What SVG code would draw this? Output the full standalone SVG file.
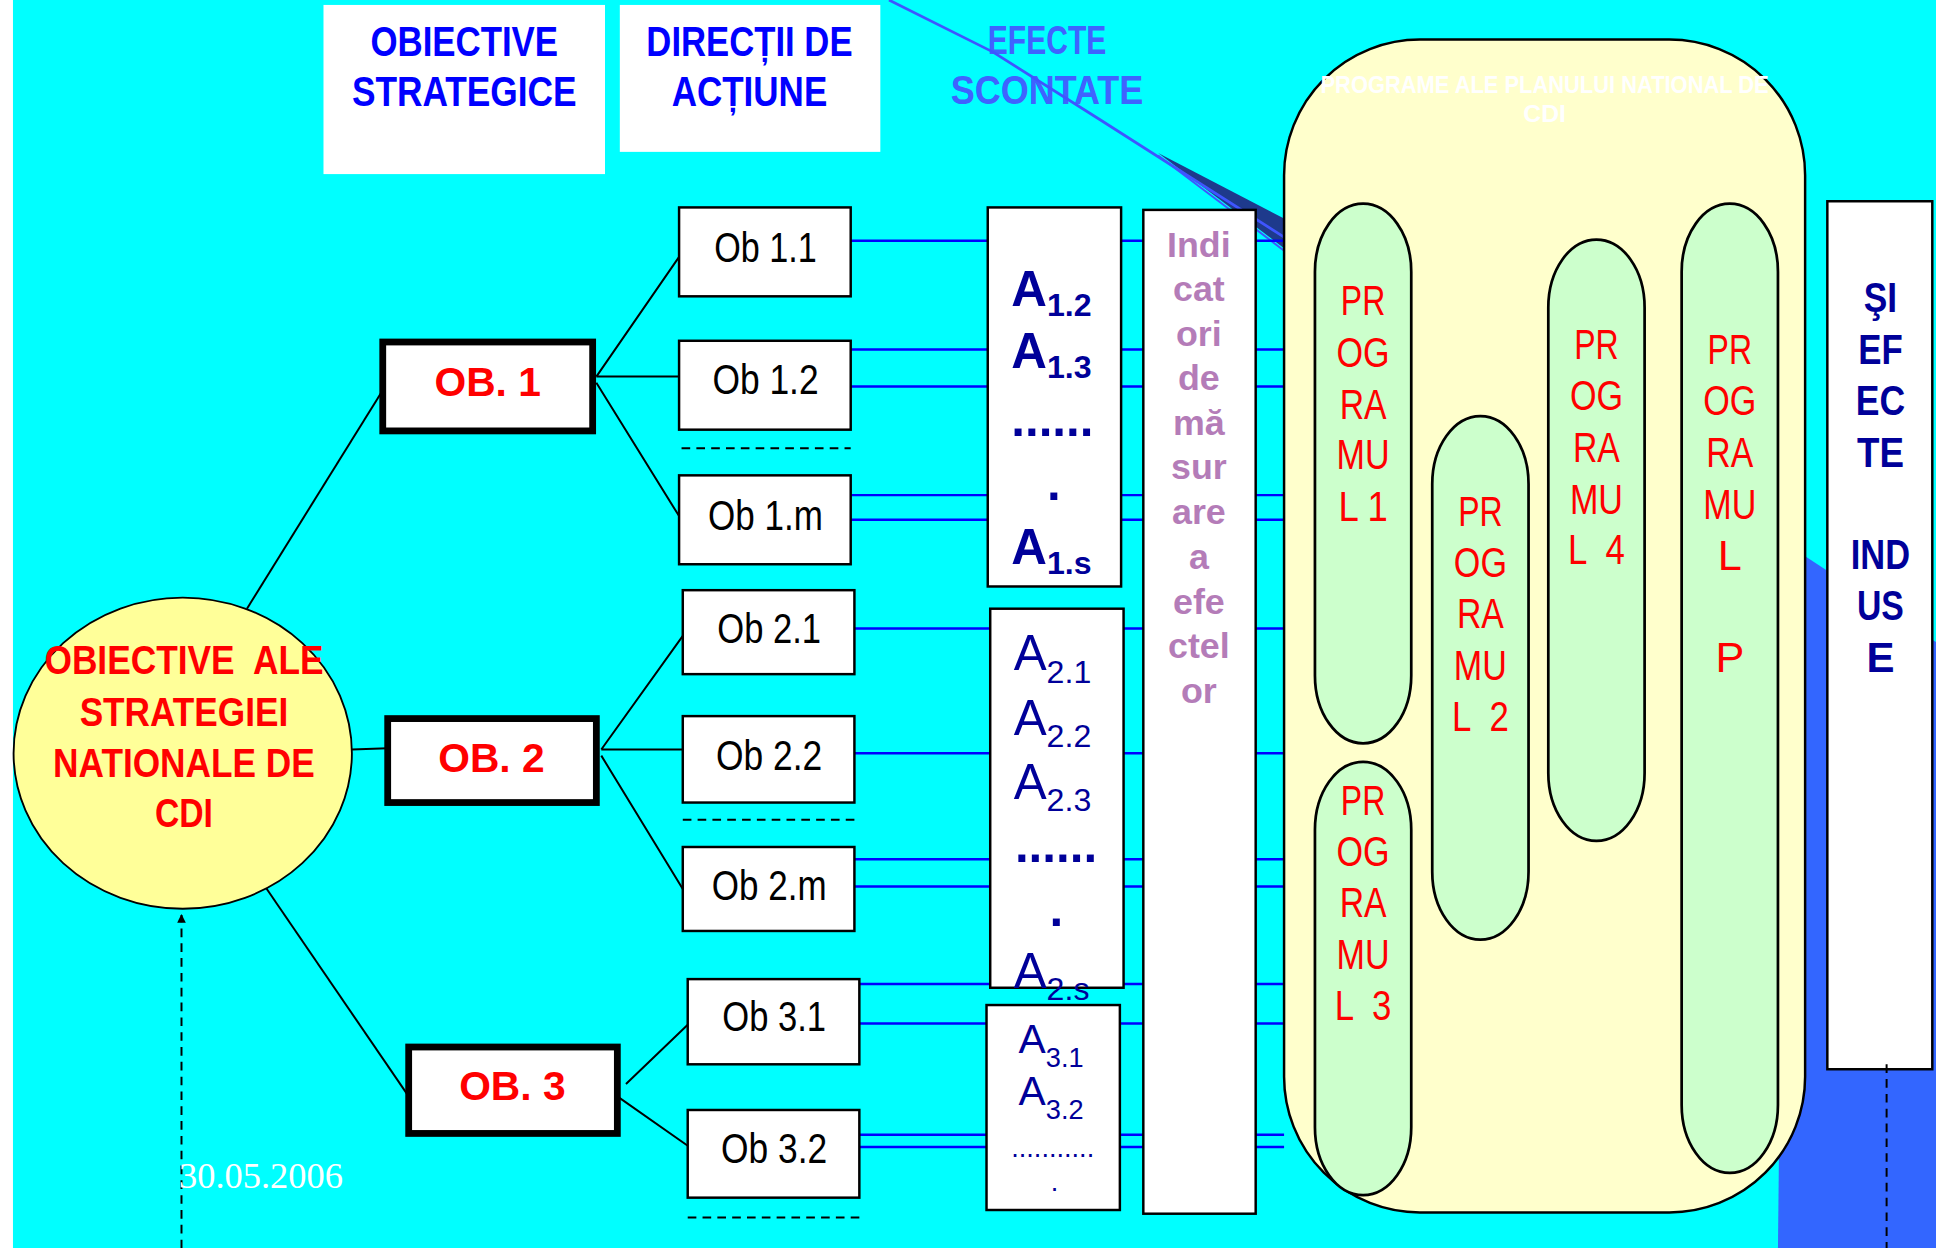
<svg xmlns="http://www.w3.org/2000/svg" width="1936" height="1248" viewBox="0 0 1936 1248">
<defs>
<style>
.hdr{font-family:"Liberation Sans",Arial,sans-serif;font-weight:bold;fill:#0000FF;font-size:34px;text-anchor:middle}
.eff{font-family:"Liberation Sans",Arial,sans-serif;font-weight:bold;fill:#3F63FF;font-size:33px;text-anchor:middle}
.ttl{font-family:"Liberation Sans",Arial,sans-serif;font-weight:bold;fill:#FFFFFF;font-size:20px;text-anchor:middle}
.red{font-family:"Liberation Sans",Arial,sans-serif;font-weight:bold;fill:#FF0000;font-size:33px;text-anchor:middle}
.prg{font-family:"Liberation Sans",Arial,sans-serif;fill:#FF0000;font-size:35px;text-anchor:middle}
.nav{font-family:"Liberation Sans",Arial,sans-serif;font-weight:bold;fill:#000099;font-size:34px;text-anchor:middle}
.ob{font-family:"Liberation Sans",Arial,sans-serif;fill:#000000;font-size:34px;text-anchor:middle}
.ind{font-family:"Liberation Sans",Arial,sans-serif;font-weight:bold;fill:#B47CB8;font-size:29px;text-anchor:middle}
.a1{font-family:"Liberation Sans",Arial,sans-serif;font-weight:bold;fill:#000099;font-size:40px}
.a2{font-family:"Liberation Sans",Arial,sans-serif;fill:#000099;font-size:40px}
.a3{font-family:"Liberation Sans",Arial,sans-serif;fill:#000099;font-size:33px}
.a3s{font-family:"Liberation Sans",Arial,sans-serif;fill:#000099;font-size:22px}
.box{fill:#FFFFFF;stroke:#000000;stroke-width:2}
.obx{fill:#FFFFFF;stroke:#000000;stroke-width:5.5}
.cap{fill:#CCFFCC;stroke:#000000;stroke-width:2.2}
.blu{stroke:#0000FF;stroke-width:2;fill:none}
.blk{stroke:#000000;stroke-width:1.6;fill:none}
.dsh{stroke:#000000;stroke-width:1.6;fill:none;stroke-dasharray:7 5}
</style>
<marker id="arr" viewBox="0 0 10 10" refX="9" refY="5" markerWidth="7" markerHeight="7" orient="auto" markerUnits="userSpaceOnUse">
<path d="M0,0 L10,5 L0,10 z" fill="#000000"/>
</marker>
</defs>
<g transform="scale(1.23469)">
<rect x="0" y="0" width="1568" height="1011" fill="#00FFFF"/>
<rect x="0" y="0" width="10.5" height="1011" fill="#FFFFFF"/>
<polygon points="1440,1011 1446,440 1568,520 1568,1011" fill="#3366FF"/>

<g id="hdr-obiective">
<rect x="262" y="4" width="228" height="137" fill="#FFFFFF"/>
<text class="hdr" x="376" y="45" textLength="152" lengthAdjust="spacingAndGlyphs">OBIECTIVE</text>
<text class="hdr" x="376" y="86" textLength="182" lengthAdjust="spacingAndGlyphs">STRATEGICE</text>
</g>
<g id="hdr-directii">
<rect x="502" y="4" width="211" height="119" fill="#FFFFFF"/>
<text class="hdr" x="607" y="45" textLength="167" lengthAdjust="spacingAndGlyphs">DIRECȚII DE</text>
<text class="hdr" x="607" y="86" textLength="126" lengthAdjust="spacingAndGlyphs">ACȚIUNE</text>
</g>
<g id="hdr-efecte">
<text class="eff" x="848" y="44" textLength="96" lengthAdjust="spacingAndGlyphs">EFECTE</text>
<text class="eff" x="848" y="84" textLength="156" lengthAdjust="spacingAndGlyphs">SCONTATE</text>
</g>

<g id="connectors">
<polygon points="938,124 1040,177 1040,201" fill="#1E3A8C"/>
<path d="M720,0 L804,42 L891,97 L1040,192" stroke="#3F55FF" stroke-width="2.2" fill="none" stroke-linejoin="round"/>
<path d="M938,126 L1040,203" stroke="#3F55FF" stroke-width="1.5" fill="none"/>
<line class="blu" x1="689" y1="195" x2="1040" y2="195"/>
<line class="blu" x1="689" y1="283" x2="1040" y2="283"/>
<line class="blu" x1="689" y1="313" x2="1040" y2="313"/>
<line class="blu" x1="689" y1="401" x2="1040" y2="401"/>
<line class="blu" x1="689" y1="421" x2="1040" y2="421"/>
<line class="blu" x1="692" y1="509" x2="1040" y2="509" stroke-width="3"/>
<line class="blu" x1="692" y1="610" x2="1040" y2="610"/>
<line class="blu" x1="692" y1="696" x2="1040" y2="696"/>
<line class="blu" x1="692" y1="718" x2="1040" y2="718"/>
<line class="blu" x1="696" y1="797" x2="1040" y2="797"/>
<line class="blu" x1="696" y1="829" x2="1040" y2="829"/>
<line class="blu" x1="696" y1="919" x2="1040" y2="919"/>
<line class="blu" x1="696" y1="929" x2="1040" y2="929"/>
<line class="blk" x1="200" y1="493" x2="310" y2="316"/>
<line class="blk" x1="285" y1="607" x2="314" y2="606"/>
<line class="blk" x1="214" y1="717" x2="331" y2="888"/>
<path class="blk" d="M483,305 L550,208 M483,305 L550,305 M483,310 L550,418"/>
<path class="blk" d="M487,607 L553,515 M487,607 L553,607 M487,612 L553,720"/>
<path class="blk" d="M507,878 L557,830 M500,888 L557,928"/>
<line class="dsh" x1="552" y1="363" x2="689" y2="363"/>
<line class="dsh" x1="553" y1="664" x2="692" y2="664"/>
<line class="dsh" x1="557" y1="986" x2="696" y2="986"/>
<line class="dsh" x1="147" y1="1011" x2="147" y2="741" marker-end="url(#arr)"/>
</g>

<g id="programe">
<rect x="1040" y="32" width="422" height="950" rx="110" ry="110" fill="#FFFFCC" stroke="#000000" stroke-width="2"/>
<text class="ttl" x="1251" y="75" textLength="363" lengthAdjust="spacingAndGlyphs">PROGRAME ALE PLANULUI NATIONAL DE</text>
<text class="ttl" x="1251" y="99">CDI</text>
</g>
<g id="programul-1">
<rect class="cap" x="1065" y="165" width="78" height="437" rx="39" ry="55"/>
<text class="prg" x="1104" y="255" textLength="36" lengthAdjust="spacingAndGlyphs">PR</text>
<text class="prg" x="1104" y="297" textLength="43" lengthAdjust="spacingAndGlyphs">OG</text>
<text class="prg" x="1104" y="339" textLength="38" lengthAdjust="spacingAndGlyphs">RA</text>
<text class="prg" x="1104" y="380" textLength="43" lengthAdjust="spacingAndGlyphs">MU</text>
<text class="prg" x="1104" y="422" textLength="40" lengthAdjust="spacingAndGlyphs">L 1</text>
</g>
<g id="programul-2">
<rect class="cap" x="1160" y="337" width="78" height="424" rx="39" ry="55"/>
<text class="prg" x="1199" y="426" textLength="36" lengthAdjust="spacingAndGlyphs">PR</text>
<text class="prg" x="1199" y="467" textLength="43" lengthAdjust="spacingAndGlyphs">OG</text>
<text class="prg" x="1199" y="509" textLength="38" lengthAdjust="spacingAndGlyphs">RA</text>
<text class="prg" x="1199" y="551" textLength="43" lengthAdjust="spacingAndGlyphs">MU</text>
<text class="prg" x="1199" y="592" textLength="46" lengthAdjust="spacingAndGlyphs" xml:space="preserve">L  2</text>
</g>
<g id="programul-4">
<rect class="cap" x="1254" y="194" width="78" height="487" rx="39" ry="55"/>
<text class="prg" x="1293" y="291" textLength="36" lengthAdjust="spacingAndGlyphs">PR</text>
<text class="prg" x="1293" y="332" textLength="43" lengthAdjust="spacingAndGlyphs">OG</text>
<text class="prg" x="1293" y="374" textLength="38" lengthAdjust="spacingAndGlyphs">RA</text>
<text class="prg" x="1293" y="416" textLength="43" lengthAdjust="spacingAndGlyphs">MU</text>
<text class="prg" x="1293" y="457" textLength="46" lengthAdjust="spacingAndGlyphs" xml:space="preserve">L  4</text>
</g>
<g id="programul-p">
<rect class="cap" x="1362" y="165" width="78" height="785" rx="39" ry="55"/>
<text class="prg" x="1401" y="295" textLength="36" lengthAdjust="spacingAndGlyphs">PR</text>
<text class="prg" x="1401" y="336" textLength="43" lengthAdjust="spacingAndGlyphs">OG</text>
<text class="prg" x="1401" y="378" textLength="38" lengthAdjust="spacingAndGlyphs">RA</text>
<text class="prg" x="1401" y="420" textLength="43" lengthAdjust="spacingAndGlyphs">MU</text>
<text class="prg" x="1401" y="462">L</text>
<text class="prg" x="1401" y="544">P</text>
</g>
<g id="programul-3">
<rect class="cap" x="1065" y="617" width="78" height="351" rx="39" ry="55"/>
<text class="prg" x="1104" y="660" textLength="36" lengthAdjust="spacingAndGlyphs">PR</text>
<text class="prg" x="1104" y="701" textLength="43" lengthAdjust="spacingAndGlyphs">OG</text>
<text class="prg" x="1104" y="743" textLength="38" lengthAdjust="spacingAndGlyphs">RA</text>
<text class="prg" x="1104" y="785" textLength="43" lengthAdjust="spacingAndGlyphs">MU</text>
<text class="prg" x="1104" y="826" textLength="46" lengthAdjust="spacingAndGlyphs" xml:space="preserve">L  3</text>
</g>

<g id="efecte-induse">
<rect class="box" x="1480" y="163" width="85" height="703"/>
<text class="nav" x="1523" y="253" textLength="27" lengthAdjust="spacingAndGlyphs">ŞI</text>
<text class="nav" x="1523" y="295" textLength="36" lengthAdjust="spacingAndGlyphs">EF</text>
<text class="nav" x="1523" y="336" textLength="40" lengthAdjust="spacingAndGlyphs">EC</text>
<text class="nav" x="1523" y="378" textLength="38" lengthAdjust="spacingAndGlyphs">TE</text>
<text class="nav" x="1523" y="461" textLength="48" lengthAdjust="spacingAndGlyphs">IND</text>
<text class="nav" x="1523" y="502" textLength="38" lengthAdjust="spacingAndGlyphs">US</text>
<text class="nav" x="1523" y="544">E</text>
</g>
<line class="dsh" x1="1528" y1="862" x2="1528" y2="1011"/>

<g id="obiective-strategiei">
<ellipse cx="148" cy="610" rx="137" ry="126" fill="#FFFF99" stroke="#000000" stroke-width="1.5"/>
<text class="red" x="149" y="546" textLength="226" lengthAdjust="spacingAndGlyphs" xml:space="preserve">OBIECTIVE  ALE</text>
<text class="red" x="149" y="588" textLength="169" lengthAdjust="spacingAndGlyphs">STRATEGIEI</text>
<text class="red" x="149" y="629" textLength="212" lengthAdjust="spacingAndGlyphs">NATIONALE DE</text>
<text class="red" x="149" y="670" textLength="47" lengthAdjust="spacingAndGlyphs">CDI</text>
</g>
<text x="145" y="962" font-family="'Liberation Serif','Times New Roman',serif" font-size="29.5" fill="#FFFFFF">30.05.2006</text>

<g id="ob1">
<rect class="obx" x="310" y="277" width="170" height="72"/>
<text class="red" x="395" y="321">OB. 1</text>
</g>
<g id="ob2">
<rect class="obx" x="314" y="582" width="169" height="68"/>
<text class="red" x="398" y="625">OB. 2</text>
</g>
<g id="ob3">
<rect class="obx" x="331" y="848" width="169" height="70"/>
<text class="red" x="415" y="891">OB. 3</text>
</g>

<g id="ob-1-1"><rect class="box" x="550" y="168" width="139" height="72"/><text class="ob" x="620" y="212" textLength="83" lengthAdjust="spacingAndGlyphs">Ob 1.1</text></g>
<g id="ob-1-2"><rect class="box" x="550" y="276" width="139" height="72"/><text class="ob" x="620" y="319" textLength="86" lengthAdjust="spacingAndGlyphs">Ob 1.2</text></g>
<g id="ob-1-m"><rect class="box" x="550" y="385" width="139" height="72"/><text class="ob" x="620" y="429" textLength="93" lengthAdjust="spacingAndGlyphs">Ob 1.m</text></g>
<g id="ob-2-1"><rect class="box" x="553" y="478" width="139" height="68"/><text class="ob" x="623" y="521" textLength="84" lengthAdjust="spacingAndGlyphs">Ob 2.1</text></g>
<g id="ob-2-2"><rect class="box" x="553" y="580" width="139" height="70"/><text class="ob" x="623" y="624" textLength="86" lengthAdjust="spacingAndGlyphs">Ob 2.2</text></g>
<g id="ob-2-m"><rect class="box" x="553" y="686" width="139" height="68"/><text class="ob" x="623" y="729" textLength="93" lengthAdjust="spacingAndGlyphs">Ob 2.m</text></g>
<g id="ob-3-1"><rect class="box" x="557" y="793" width="139" height="69"/><text class="ob" x="627" y="835" textLength="84" lengthAdjust="spacingAndGlyphs">Ob 3.1</text></g>
<g id="ob-3-2"><rect class="box" x="557" y="899" width="139" height="71"/><text class="ob" x="627" y="942" textLength="86" lengthAdjust="spacingAndGlyphs">Ob 3.2</text></g>

<g id="actiuni-1">
<rect class="box" x="800" y="168" width="108" height="307"/>
<text class="a1" x="819" y="248">A<tspan font-size="26" dy="8">1.2</tspan></text>
<text class="a1" x="819" y="298">A<tspan font-size="26" dy="8">1.3</tspan></text>
<text class="a1" x="819" y="353">......</text>
<text class="a1" x="848" y="405">.</text>
<text class="a1" x="819" y="457">A<tspan font-size="26" dy="8">1.s</tspan></text>
</g>
<g id="actiuni-2">
<rect class="box" x="802" y="493" width="108" height="307"/>
<text class="a2" x="821" y="543">A<tspan font-size="26" dy="10">2.1</tspan></text>
<text class="a2" x="821" y="595">A<tspan font-size="26" dy="10">2.2</tspan></text>
<text class="a2" x="821" y="647">A<tspan font-size="26" dy="10">2.3</tspan></text>
<text class="a1" x="822" y="698">......</text>
<text class="a1" x="850" y="750">.</text>
<text class="a2" x="821" y="800">A<tspan font-size="26" dy="10">2.s</tspan></text>
</g>
<g id="actiuni-3">
<rect class="box" x="799" y="814" width="108" height="166"/>
<text class="a3" x="825" y="853">A<tspan font-size="22" dy="11">3.1</tspan></text>
<text class="a3" x="825" y="895">A<tspan font-size="22" dy="11">3.2</tspan></text>
<text class="a3s" x="819" y="937">...........</text>
<text class="a3s" x="851" y="965">.</text>
</g>

<g id="indicatori">
<rect class="box" x="926" y="170" width="91" height="813"/>
<text class="ind" x="971" y="208">Indi</text>
<text class="ind" x="971" y="244">cat</text>
<text class="ind" x="971" y="280">ori</text>
<text class="ind" x="971" y="316">de</text>
<text class="ind" x="971" y="352">mă</text>
<text class="ind" x="971" y="388">sur</text>
<text class="ind" x="971" y="424">are</text>
<text class="ind" x="971" y="461">a</text>
<text class="ind" x="971" y="497">efe</text>
<text class="ind" x="971" y="533">ctel</text>
<text class="ind" x="971" y="569">or</text>
</g>
</g>
</svg>
